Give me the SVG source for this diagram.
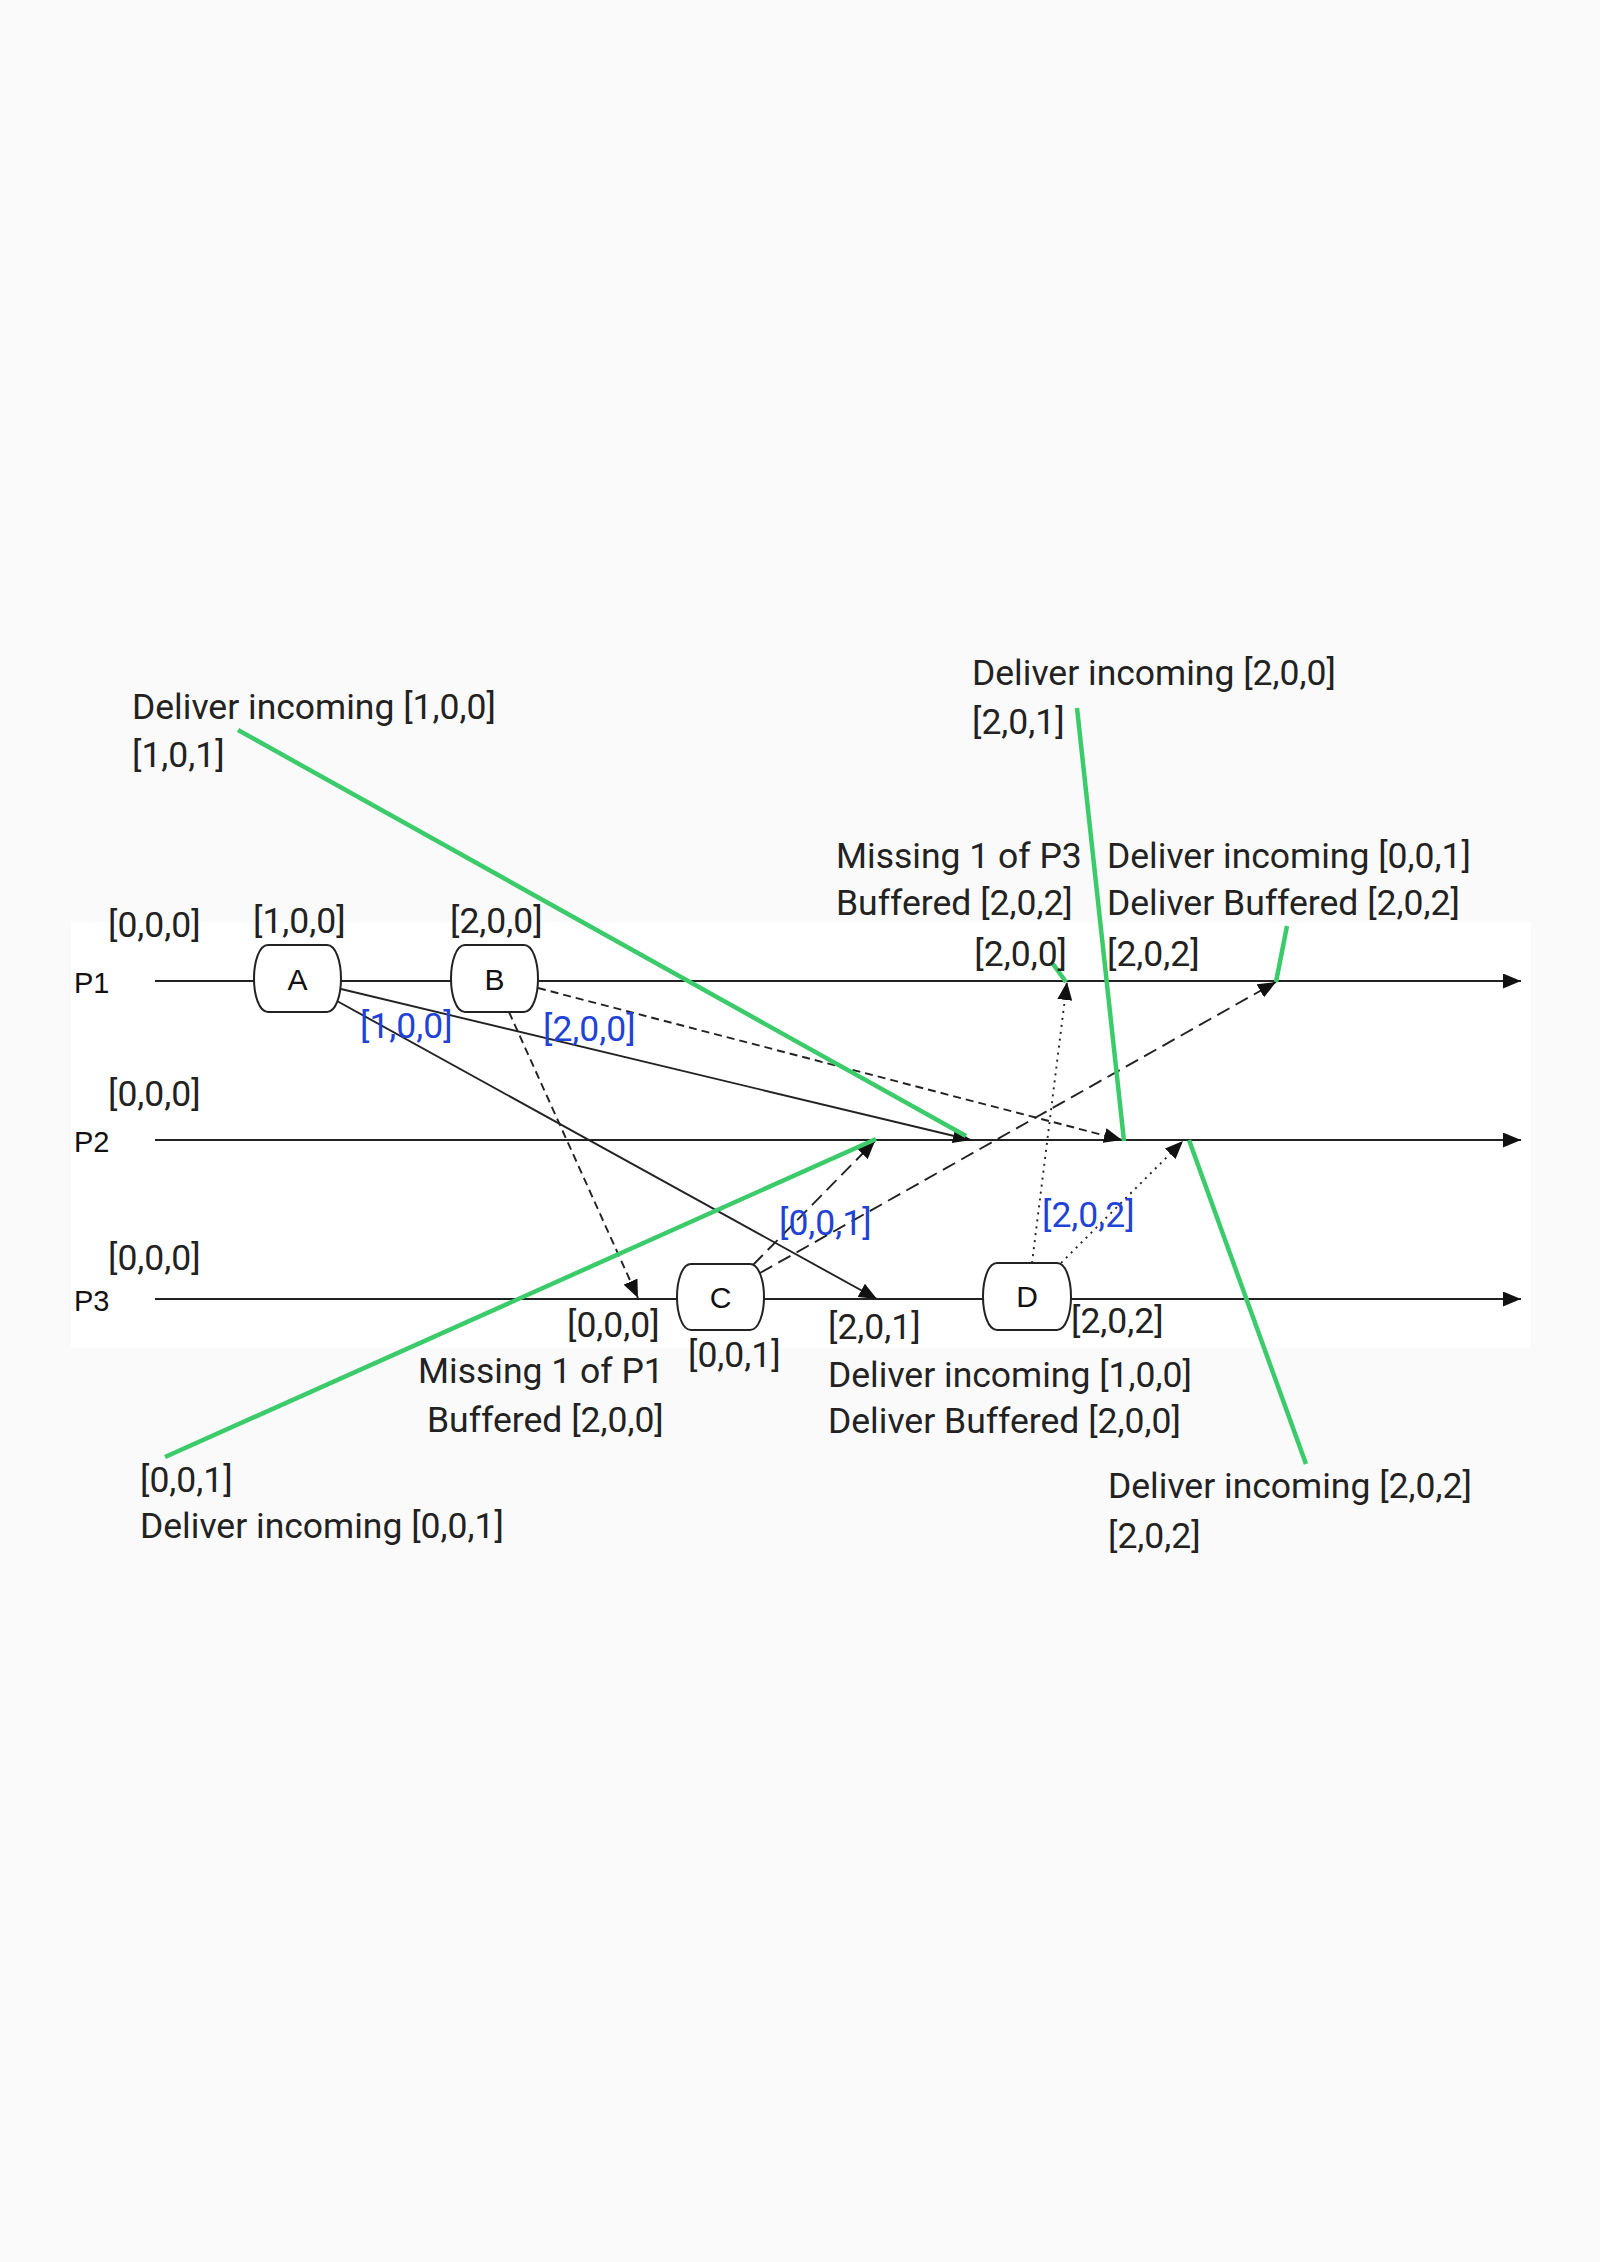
<svg xmlns="http://www.w3.org/2000/svg" width="1600" height="2262" viewBox="0 0 1600 2262">
<defs>
<style>
.t{font-family:Roboto,"Liberation Sans",sans-serif;font-size:35.5px;fill:#222}
.b{font-family:Roboto,"Liberation Sans",sans-serif;font-size:35.5px;fill:#1f43d6}
.p{font-family:"Liberation Sans",Arial,sans-serif;font-size:29px;fill:#111}
.n{font-family:"Liberation Sans",Arial,sans-serif;font-size:30px;fill:#111;text-anchor:middle}
.node{fill:#fff;stroke:#222;stroke-width:2}
.tl{stroke:#222;stroke-width:2.2;fill:none}
.c{stroke:#222;stroke-width:1.9;fill:none}
.d1{stroke-dasharray:8 5}
.d2{stroke-dasharray:14 7}
.dt{stroke-dasharray:2 5}
.g{stroke:#3ccb6a;stroke-width:4.5;fill:none;stroke-linecap:butt}
</style>
<marker id="ah" viewBox="0 0 18 15" refX="18" refY="7.5" markerWidth="18" markerHeight="15" markerUnits="userSpaceOnUse" orient="auto">
<path d="M0,0 L18,7.5 L0,15 z" fill="#111"/>
</marker>
</defs>
<rect x="0" y="0" width="1600" height="2262" fill="#fafafa"/>
<rect x="71" y="922" width="1460" height="426" fill="#ffffff"/>

<g id="timelines">
<line class="tl" x1="155" y1="981" x2="1521" y2="981" marker-end="url(#ah)"/>
<line class="tl" x1="155" y1="1140" x2="1521" y2="1140" marker-end="url(#ah)"/>
<line class="tl" x1="155" y1="1299" x2="1521" y2="1299" marker-end="url(#ah)"/>
<text class="p" x="74" y="993">P1</text>
<text class="p" x="74" y="1152">P2</text>
<text class="p" x="74" y="1311">P3</text>
</g>

<g id="connectors">
<line class="c" x1="341" y1="989" x2="971" y2="1140" marker-end="url(#ah)"/>
<line class="c" x1="337" y1="1001" x2="877" y2="1299" marker-end="url(#ah)"/>
<line class="c d1" x1="538" y1="988" x2="1122" y2="1140" marker-end="url(#ah)"/>
<line class="c d1" x1="509" y1="1012" x2="638" y2="1298" marker-end="url(#ah)"/>
<line class="c d2" x1="753" y1="1265" x2="875" y2="1141" marker-end="url(#ah)"/>
<line class="c d2" x1="760" y1="1273" x2="1276" y2="982" marker-end="url(#ah)"/>
<line class="c dt" x1="1032" y1="1263" x2="1067" y2="982" marker-end="url(#ah)"/>
<line class="c dt" x1="1061" y1="1263" x2="1183" y2="1141" marker-end="url(#ah)"/>
</g>

<g id="node-A">
<path class="node" d="M268,945 H327 C336,945 341,962 341,978.5 C341,995 336,1012 327,1012 H268 C259,1012 254,995 254,978.5 C254,962 259,945 268,945 Z"/>
<text class="n" x="297.5" y="990">A</text>
</g>
<g id="node-B">
<path class="node" d="M465,945 H524 C533,945 538,962 538,978.5 C538,995 533,1012 524,1012 H465 C456,1012 451,995 451,978.5 C451,962 456,945 465,945 Z"/>
<text class="n" x="494.5" y="990">B</text>
</g>
<g id="node-C">
<path class="node" d="M691,1264 H750 C759,1264 764,1281 764,1297 C764,1313 759,1330 750,1330 H691 C682,1330 677,1313 677,1297 C677,1281 682,1264 691,1264 Z"/>
<text class="n" x="720.5" y="1308">C</text>
</g>
<g id="node-D">
<path class="node" d="M997,1263 H1057 C1066,1263 1071,1280 1071,1296.5 C1071,1313 1066,1330 1057,1330 H997 C988,1330 983,1313 983,1296.5 C983,1280 988,1263 997,1263 Z"/>
<text class="n" x="1027" y="1307">D</text>
</g>

<g id="annotations">
<line class="g" x1="238" y1="730" x2="966" y2="1136"/>
<line class="g" x1="1077" y1="708" x2="1124" y2="1141"/>
<line class="g" x1="1287" y1="926" x2="1276" y2="982"/>
<line class="g" x1="1053" y1="964" x2="1066" y2="982"/>
<line class="g" x1="1189" y1="1140" x2="1306" y2="1464"/>
<line class="g" x1="165" y1="1457" x2="876" y2="1139"/>
</g>

<g id="labels">
<text class="t" x="108" y="937">[0,0,0]</text>
<text class="t" x="253" y="933">[1,0,0]</text>
<text class="t" x="450" y="933">[2,0,0]</text>
<text class="t" x="108" y="1106">[0,0,0]</text>
<text class="t" x="108" y="1270">[0,0,0]</text>
<text class="b" x="360" y="1038">[1,0,0]</text>
<text class="b" x="543" y="1041">[2,0,0]</text>
<text class="b" x="779" y="1235">[0,0,1]</text>
<text class="b" x="1042" y="1227">[2,0,2]</text>

<text class="t" x="132" y="719">Deliver incoming [1,0,0]</text>
<text class="t" x="132" y="767">[1,0,1]</text>
<text class="t" x="972" y="685">Deliver incoming [2,0,0]</text>
<text class="t" x="972" y="734">[2,0,1]</text>
<text class="t" x="836" y="868">Missing 1 of P3</text>
<text class="t" x="836" y="915">Buffered [2,0,2]</text>
<text class="t" x="1067" y="966" text-anchor="end">[2,0,0]</text>
<text class="t" x="1107" y="868">Deliver incoming [0,0,1]</text>
<text class="t" x="1107" y="915">Deliver Buffered [2,0,2]</text>
<text class="t" x="1107" y="966">[2,0,2]</text>

<text class="t" x="567" y="1337">[0,0,0]</text>
<text class="t" x="418" y="1383">Missing 1 of P1</text>
<text class="t" x="427" y="1432">Buffered [2,0,0]</text>
<text class="t" x="688" y="1367">[0,0,1]</text>
<text class="t" x="828" y="1339">[2,0,1]</text>
<text class="t" x="828" y="1387">Deliver incoming [1,0,0]</text>
<text class="t" x="828" y="1433">Deliver Buffered [2,0,0]</text>
<text class="t" x="1071" y="1333">[2,0,2]</text>
<text class="t" x="1108" y="1498">Deliver incoming [2,0,2]</text>
<text class="t" x="1108" y="1548">[2,0,2]</text>
<text class="t" x="140" y="1492">[0,0,1]</text>
<text class="t" x="140" y="1538">Deliver incoming [0,0,1]</text>
</g>
</svg>
